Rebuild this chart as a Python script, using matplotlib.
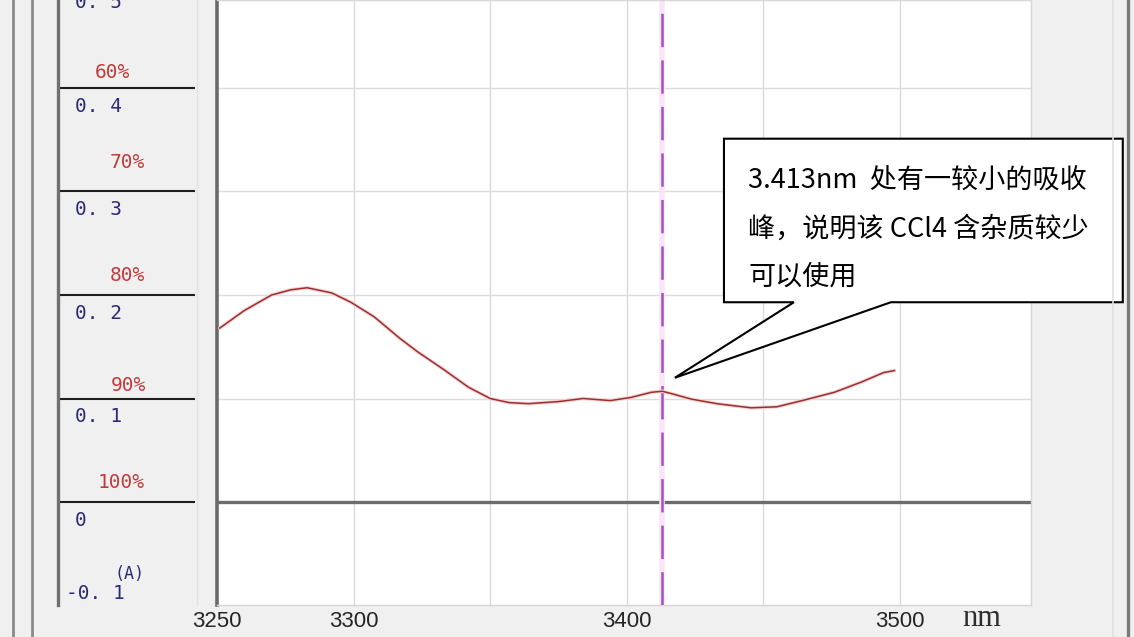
import matplotlib
matplotlib.use("Agg")
import matplotlib.pyplot as plt
from matplotlib.patches import Polygon
from matplotlib.lines import Line2D

# spectrum (nm, absorbance)
wavelength = [3251, 3260, 3270, 3277, 3283, 3292, 3299, 3307.5, 3317, 3323.5, 3333,
              3342, 3350, 3357, 3364, 3375, 3384, 3394, 3401.5, 3409, 3413, 3416,
              3423.5, 3433, 3445.5, 3455, 3465, 3476, 3486, 3494, 3498]
absorbance = [0.168, 0.185, 0.200, 0.205, 0.207, 0.202, 0.193, 0.179, 0.158, 0.145, 0.128,
              0.111, 0.100, 0.096, 0.095, 0.097, 0.100, 0.098, 0.101, 0.106, 0.107, 0.105,
              0.0995, 0.095, 0.091, 0.092, 0.0985, 0.106, 0.116, 0.125, 0.127]

peak_nm = 3413
x_ticks = [3250, 3300, 3400, 3500]
x_grid = [3300, 3350, 3400, 3450, 3500]
y_grid = [0.1, 0.2, 0.3, 0.4]

abs_levels = [0.5, 0.4, 0.3, 0.2, 0.1, 0.0]
abs_labels = ["0. 5", "0. 4", "0. 3", "0. 2", "0. 1", "0"]
pct_labels = ["60%", "70%", "80%", "90%", "100%"]
pct_label_pos = [0.415, 0.328, 0.219, 0.113, 0.019]
pct_label_x = [112, 127, 127, 128, 121]

note_lines = ["3.413nm  处有一较小的吸收",
              "峰，说明该 CCl4 含杂质较少",
              "可以使用"]

W, H = 1134, 637
BG = "#f0f0f0"
plt.rcParams["lines.scale_dashes"] = False

fig = plt.figure(figsize=(W / 100, H / 100), dpi=100, facecolor=BG)

# ---- main plot area ----
ax = fig.add_axes([217 / W, 32 / H, (1031 - 217) / W, 605 / H])
ax.set_facecolor("white")
ax.set_xlim(3250, 3548)
ax.set_ylim(-0.0995, 0.485)

for gx in x_grid:
    ax.axvline(gx, color="#dadada", lw=1, zorder=1)
for gy in y_grid:
    ax.axhline(gy, color="#dcdcdc", lw=1, zorder=1)
ax.axhline(0, color="#6c6c6c", lw=2.4, zorder=2)

# peak marker
ax.axvline(peak_nm, color="#f8e6f8", lw=4, zorder=2)
ax.axvline(peak_nm, color="#a452bd", lw=1.8, dashes=(24, 9.5), zorder=3)

ax.plot(wavelength, absorbance, color="#f4d2d2", lw=2.6, zorder=3, solid_capstyle="round")
ax.plot(wavelength, absorbance, color="#9a3030", lw=1.1, zorder=4)

for side in ["top", "right", "bottom"]:
    ax.spines[side].set_color("#d6d6d6")
    ax.spines[side].set_linewidth(1)
ax.spines["left"].set_color("#6a6a6a")
ax.spines["left"].set_linewidth(2.6)

ax.set_yticks([])
ax.set_xticks(x_ticks)
ax.set_xticklabels([str(t) for t in x_ticks])
ax.tick_params(axis="x", length=0, pad=4, labelsize=16, labelcolor="#262626")
for lab in ax.get_xticklabels():
    lab.set_family(["Liberation Sans Narrow", "Liberation Sans", "DejaVu Sans"])

ax.text(3530, -0.022, "nm", transform=ax.get_xaxis_transform(), ha="center", va="center",
        fontsize=22, family=["Liberation Serif", "DejaVu Serif"], color="#2e2e2e")

# ---- callout ----
tip = (3417.6, 0.120)
box_l, box_r, box_b, box_t = 3435.6, 3581.6, 0.193, 0.351
base_l, base_r = 3461.2, 3496.7
callout = Polygon([(box_l, box_b), (box_l, box_t), (box_r, box_t), (box_r, box_b),
                   (base_r, box_b), tip, (base_l, box_b)],
                  closed=True, facecolor="white", edgecolor="black", lw=1.5,
                  clip_on=False, zorder=6)
ax.add_patch(callout)
line_y = [0.310, 0.2635, 0.217]
for txt, ly in zip(note_lines, line_y):
    ax.text(3444.5, ly, txt, ha="left", va="center", fontsize=19.5, color="black",
            family=["Noto Sans CJK SC", "DejaVu Sans"], zorder=7, clip_on=False)

# ---- left scale panel ----
axl = fig.add_axes([0, 32 / H, 217 / W, 605 / H])
axl.set_xlim(0, 217)
axl.set_ylim(-0.0995, 0.485)
axl.axis("off")
axl.hlines([v for v in abs_levels if v < 0.485], 60, 195, color="#1e1e1e", lw=1.5)
mono = ["DejaVu Sans Mono"]
for v, lab in zip(abs_levels, abs_labels):
    axl.text(75, v - 0.0175, lab, ha="left", va="center", fontsize=14,
             family=mono, color="#2a2a7a")
axl.text(66, -0.088, "-0. 1", ha="left", va="center", fontsize=14, family=mono, color="#2a2a7a")
axl.text(129, -0.070, "(A)", ha="center", va="center", fontsize=12, family=mono, color="#2a2a7a")
for p, px, lab in zip(pct_label_pos, pct_label_x, pct_labels):
    axl.text(px, p, lab, ha="center", va="center", fontsize=14, family=mono, color="#c23a3a")

# window frame lines
fig.add_artist(Line2D([13 / W, 13 / W], [0, 1], color="#8a8a8a", lw=2))
fig.add_artist(Line2D([32 / W, 32 / W], [0, 1], color="#8a8a8a", lw=2))
fig.add_artist(Line2D([58 / W, 58 / W], [(H - 605) / H, 1], color="#707070", lw=2.4))
fig.add_artist(Line2D([197 / W, 197 / W], [(H - 605) / H, 1], color="#e2e2e2", lw=1))
fig.add_artist(Line2D([1113 / W, 1113 / W], [0, 1], color="#e0e0e0", lw=1.2))
fig.add_artist(Line2D([1128 / W, 1128 / W], [0, 1], color="#7a7a7a", lw=2.4))

fig.savefig("out.png", dpi=100, facecolor=BG)
